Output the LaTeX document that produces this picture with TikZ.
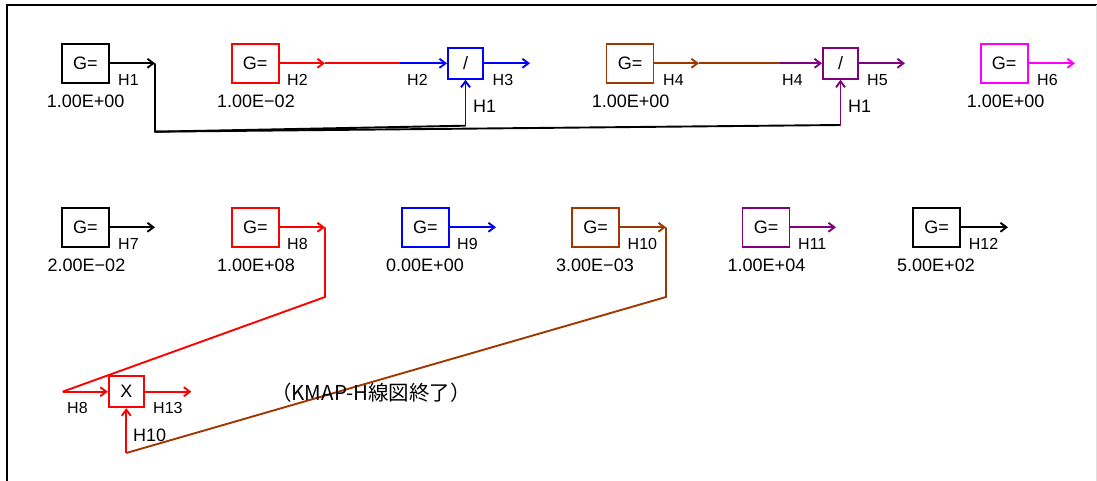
\documentclass[tikz,border=0pt]{standalone}
\usepackage{fontspec}
\setmainfont{Liberation Sans}
\newfontfamily\jpfont{Noto Sans CJK JP}
\usetikzlibrary{arrows.meta}
\definecolor{kbrown}{RGB}{160,55,0}
\definecolor{kpurple}{RGB}{128,0,128}
\definecolor{kmagenta}{RGB}{255,0,255}
\begin{document}
\begin{tikzpicture}[x=1pt,y=-1pt,
  big/.style={font=\fontsize{18}{20}\selectfont},
  small/.style={font=\fontsize{16}{18}\selectfont},
  gbox/.style={draw,line width=1.9pt,minimum width=47pt,minimum height=38.7pt,inner sep=0pt,big,text=black},
  opbox/.style={draw,line width=1.9pt,minimum width=35pt,minimum height=31pt,inner sep=0pt,big,text=black},
  sig/.style={line width=1.9pt},
  sigarrow/.style={line width=1.9pt,-{Straight Barb[length=6pt,width=9pt]}},
  lbl/.style={small,anchor=west,inner sep=0pt},
  val/.style={big,anchor=west,inner sep=0pt},
  inlbl/.style={big,anchor=west,inner sep=0pt}]
\useasboundingbox (0,0) rectangle (1097,481);
% frame
\draw[line width=2pt] (7,481) -- (7,5) -- (1097,5);
\draw[gray!25,line width=1pt] (1096.5,5) -- (1096.5,481);

% ---------- first row ----------
\node[gbox,draw=black]    (b1) at (85.3,63.3)  {G=};
\node[gbox,draw=red]      (b2) at (255.2,63.3) {G=};
\node[opbox,draw=blue]    (d3) at (465.5,63.3) {/};
\node[gbox,draw=kbrown]   (b4) at (630,63.3)   {G=};
\node[opbox,draw=kpurple] (d5) at (840.5,63.3) {/};
\node[gbox,draw=kmagenta] (b6) at (1004.2,63.3) {G=};

\coordinate (h1) at (155,63.3);
\coordinate (j1) at (155,131.7);
\coordinate (j3) at (465.5,125.7);
\coordinate (j5) at (840.5,125);
\coordinate (h2) at (325,63.3);
\coordinate (h2b) at (400,63.3);
\coordinate (h3) at (530,63.3);
\coordinate (h4) at (699,63.3);
\coordinate (h4b) at (780,63.3);
\coordinate (h5) at (905,63.3);
\coordinate (h6) at (1075,63.3);

\draw[sigarrow,black] (b1.east) -- (h1);
\draw[sig,black] (h1) -- (j1) -- (j3);
\draw[sig,black] (j1) -- (j5);
\draw[sigarrow,blue] (j3) -- (d3.south);
\draw[sigarrow,kpurple] (j5) -- (d5.south);
\draw[sigarrow,red] (b2.east) -- (h2);
\draw[sig,red] (h2) -- (h2b);
\draw[sigarrow,blue] (h2b) -- (d3.west);
\draw[sigarrow,blue] (d3.east) -- (h3);
\draw[sigarrow,kbrown] (b4.east) -- (h4);
\draw[sig,kbrown] (h4) -- (h4b);
\draw[sigarrow,kpurple] (h4b) -- (d5.west);
\draw[sigarrow,kpurple] (d5.east) -- (h5);
\draw[sigarrow,kmagenta] (b6.east) -- (h6);

\node[lbl] (l1) at (118,80) {H1};
\node[lbl] (l2) at (287,80) {H2};
\node[lbl] (l2i) at (407,80) {H2};
\node[lbl] (l3) at (492.5,80) {H3};
\node[lbl] (l4) at (663,80) {H4};
\node[lbl] (l4i) at (782,80) {H4};
\node[lbl] (l5) at (867,80) {H5};
\node[lbl] (l6) at (1037,80) {H6};
\node[inlbl] (l1a) at (473,106) {H1};
\node[inlbl] (l1b) at (848,106) {H1};

\node[val] (v1) at (46.7,101.7) {1.00E+00};
\node[val] (v2) at (217,101.7) {1.00E−02};
\node[val] (v4) at (591.7,101.7) {1.00E+00};
\node[val] (v6) at (966.7,101.7) {1.00E+00};

% ---------- second row ----------
\node[gbox,draw=black]    (b7)  at (85.3,227.3)  {G=};
\node[gbox,draw=red]      (b8)  at (255.3,227.3) {G=};
\node[gbox,draw=blue]     (b9)  at (425.3,227.3) {G=};
\node[gbox,draw=kbrown]   (b10) at (595.5,227.3) {G=};
\node[gbox,draw=kpurple]  (b11) at (766,227.3)   {G=};
\node[gbox,draw=black]    (b12) at (936.5,227.3) {G=};

\coordinate (h7) at (155,227.3);
\coordinate (h8) at (325,227.3);
\coordinate (k8) at (325,297);
\coordinate (m8) at (62.6,391.7);
\coordinate (h9) at (496,227.3);
\coordinate (h10) at (666,227.3);
\coordinate (k10) at (666,297);
\coordinate (m10) at (126.3,453);
\coordinate (h11) at (836,227.3);
\coordinate (h12) at (1008,227.3);

\node[opbox,draw=red] (x13) at (126.3,391.7) {X};
\coordinate (h13) at (191.4,391.7);

\draw[sigarrow,black] (b7.east) -- (h7);
\draw[sigarrow,red] (b8.east) -- (h8);
\draw[sig,red] (h8) -- (k8) -- (m8);
\draw[sigarrow,red] (m8) -- (x13.west);
\draw[sigarrow,blue] (b9.east) -- (h9);
\draw[sigarrow,kbrown] (b10.east) -- (h10);
\draw[sig,kbrown] (h10) -- (k10) -- (m10);
\draw[sigarrow,red] (m10) -- (x13.south);
\draw[sigarrow,kpurple] (b11.east) -- (h11);
\draw[sigarrow,black] (b12.east) -- (h12);
\draw[sigarrow,red] (x13.east) -- (h13);

\node[lbl] (l7)  at (118,244) {H7};
\node[lbl] (l8)  at (287,244) {H8};
\node[lbl] (l9)  at (457,244) {H9};
\node[lbl] (l10) at (627.5,244) {H10};
\node[lbl] (l11) at (798,244) {H11};
\node[lbl] (l12) at (968.6,244) {H12};

\node[val] (v7)  at (47.5,265.7) {2.00E−02};
\node[val] (v8)  at (217,265.7)  {1.00E+08};
\node[val] (v9)  at (386,265.7)  {0.00E+00};
\node[val] (v10) at (556,265.7)  {3.00E−03};
\node[val] (v11) at (727.5,265.7) {1.00E+04};
\node[val] (v12) at (897,265.7)  {5.00E+02};

% ---------- product block ----------
\node[lbl] (l8x)  at (67,408)  {H8};
\node[lbl] (l13)  at (153,408) {H13};
\node[inlbl] (l10x) at (133,435) {H10};
\node[font=\fontsize{20.5}{22}\selectfont,inner sep=0pt] (endmsg) at (371,393) {\jpfont （KMAP-H線図終了）};
\end{tikzpicture}
\end{document}
